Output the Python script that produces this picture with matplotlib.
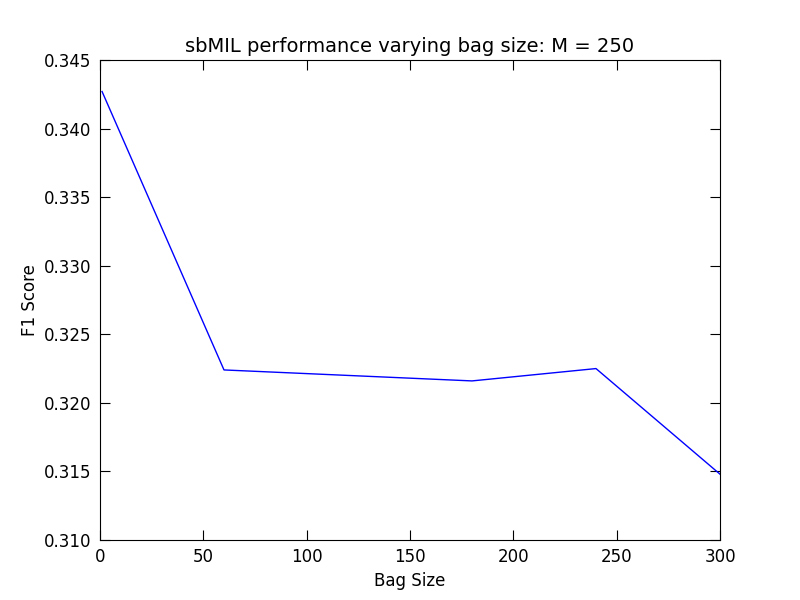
import matplotlib
matplotlib.use('Agg')
import matplotlib.pyplot as plt

bag_sizes = [1, 60, 180, 240, 300]
f1_scores = [0.3427, 0.3224, 0.3216, 0.3225, 0.3148]

plt.rcParams['font.size'] = 12
plt.rcParams['xtick.direction'] = 'in'
plt.rcParams['ytick.direction'] = 'in'
plt.rcParams['xtick.top'] = True
plt.rcParams['ytick.right'] = True
plt.rcParams['xtick.major.size'] = 7
plt.rcParams['ytick.major.size'] = 7
plt.rcParams['xtick.major.pad'] = 6
plt.rcParams['ytick.major.pad'] = 6

fig = plt.figure(figsize=(8, 6), dpi=100)
ax = fig.add_subplot(111)
fig.subplots_adjust(left=0.125, right=0.9, top=0.9, bottom=0.1)
ax.plot(bag_sizes, f1_scores, color='blue', linewidth=1)
ax.set_xlim(0, 300)
ax.set_ylim(0.310, 0.345)
ax.set_xlabel('Bag Size')
ax.set_ylabel('F1 Score')
ax.set_title('sbMIL performance varying bag size: M = 250', fontsize=14)
fig.savefig('out.png', dpi=100)
